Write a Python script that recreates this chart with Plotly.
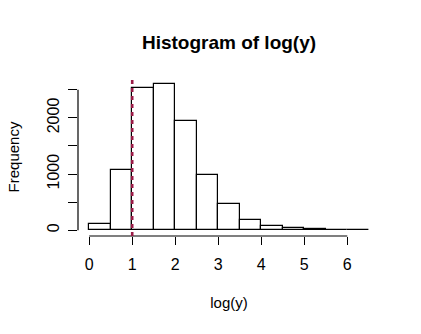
import plotly.graph_objects as go

bin_left = [0.0, 0.5, 1.0, 1.5, 2.0, 2.5, 3.0, 3.5, 4.0, 4.5, 5.0, 5.5, 6.0]
counts = [107, 1077, 2536, 2607, 1946, 982, 464, 179, 77, 36, 18, 5, 2]
bin_width = 0.5
x_ticks = [0, 1, 2, 3, 4, 5, 6]
y_ticks = [0, 1000, 2000]
y_minor = [0, 500, 1000, 1500, 2000, 2500]
vline_x = 1

centers = [b + bin_width / 2 for b in bin_left]
font = "Liberation Sans, Arial, sans-serif"

fig = go.Figure()
fig.add_trace(go.Bar(
    x=centers, y=counts, width=bin_width,
    marker=dict(color="white", line=dict(color="black", width=1.2)),
    showlegend=False, hoverinfo="skip",
))

xmax = bin_left[-1] + bin_width
ymax = max(counts)
xr = [-0.04 * xmax, xmax * 1.04]
yr = [-0.04 * ymax, ymax * 1.04]

fig.update_layout(
    width=421, height=334,
    margin=dict(l=78, r=41, t=78, b=98),
    paper_bgcolor="white", plot_bgcolor="white",
    font=dict(family=font, size=15, color="black"),
    title=dict(text="<b>Histogram of log(y)</b>", font=dict(size=19),
               x=0.5, xref="paper", y=1 - 42 / 334, yref="container",
               xanchor="center", yanchor="middle"),
    bargap=0,
    xaxis=dict(range=xr, showgrid=False, zeroline=False, showline=False,
               tickvals=x_ticks, ticktext=[str(v) for v in x_ticks],
               ticks="outside", ticklen=8, tickwidth=1.2, tickcolor="black",
               ticklabelstandoff=6, tickfont=dict(size=16),
               title=dict(text="log(y)", standoff=25, font=dict(size=15))),
    yaxis=dict(range=yr, showgrid=False, zeroline=False, showline=False,
               tickvals=y_minor,
               ticktext=[str(v) if v in y_ticks else "" for v in y_minor],
               tickangle=-90,
               ticks="outside", ticklen=9, tickwidth=1.2, tickcolor="black",
               ticklabelstandoff=3, tickfont=dict(size=16),
               title=dict(text="Frequency", standoff=21, font=dict(size=15))),
)

# R-style axis lines spanning only the tick range
fig.add_shape(type="line", xref="x", yref="paper", x0=x_ticks[0], x1=x_ticks[-1],
              y0=0, y1=0, line=dict(color="black", width=1.2))
fig.add_shape(type="line", xref="paper", yref="y", x0=0, x1=0,
              y0=y_minor[0], y1=y_minor[-1], line=dict(color="black", width=1.2))
# vertical dotted reference line
fig.add_shape(type="line", xref="x", yref="paper", x0=vline_x, x1=vline_x,
              y0=0, y1=1, line=dict(color="#9B1B47", width=2.6, dash="4px,4px"))

fig.write_html("out.html")
